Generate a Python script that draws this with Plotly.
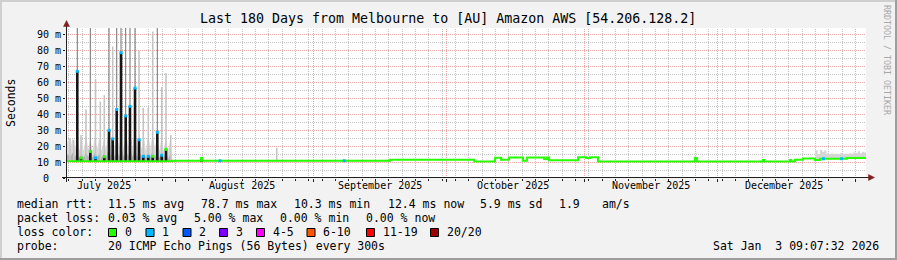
import math
from datetime import datetime, timedelta
import plotly.graph_objects as go

FONT = "DejaVu Sans Mono"
FIG_W, FIG_H = 897, 260
PLOT_L, PLOT_R, PLOT_T, PLOT_B = 66, 866, 28, 178

# ---------------- data ----------------
x_range = ["2025-07-07 09:07:32", "2026-01-03 09:07:32"]
y_max = 94.2

title = "Last 180 Days from Melbourne to [AU] Amazon AWS [54.206.128.2]"
y_ticks = [0, 10, 20, 30, 40, 50, 60, 70, 80, 90]
y_tick_labels = ["0  ", "10 m", "20 m", "30 m", "40 m", "50 m", "60 m", "70 m", "80 m", "90 m"]
month_pos = ["2025-07-16", "2025-08-16", "2025-09-16", "2025-10-16", "2025-11-16", "2025-12-16"]
month_labels = ["July 2025", "August 2025", "September 2025", "October 2025", "November 2025", "December 2025"]

smoke_floor_ms = 10.0

median_time = ["2025-07-07 09:07", "2025-07-31 06:00", "2025-09-18 07:00", "2025-10-07 05:00",
               "2025-10-11 22:00", "2025-10-13 06:00", "2025-10-15 01:00", "2025-10-18 05:00",
               "2025-10-19 03:00", "2025-10-22 23:00", "2025-10-23 15:00", "2025-10-24 02:00",
               "2025-10-30 14:00", "2025-11-01 09:00", "2025-11-02 07:00", "2025-11-04 02:00",
               "2025-11-25 22:00", "2025-11-26 09:00", "2025-12-11 05:00", "2025-12-11 12:00",
               "2025-12-17 07:00", "2025-12-17 14:00", "2025-12-18 10:00", "2025-12-20 05:00",
               "2025-12-22 22:00", "2025-12-24 01:00", "2025-12-30 03:00", "2026-01-03 09:07"]
median_ms = [10.5, 10.8, 11.5, 10.4, 12.7, 11.5, 12.9, 10.9, 12.9, 12.0, 12.9, 11.1, 13.1, 12.6,
             13.0, 10.3, 12.5, 10.3, 11.3, 10.3, 11.3, 10.3, 11.5, 12.2, 11.3, 12.1, 12.6, 12.6]

haze_time = ["2025-07-07 09:07", "2025-07-07 21:00", "2025-07-08 09:00", "2025-07-08 21:00",
             "2025-07-09 09:00", "2025-07-09 21:00", "2025-07-10 09:00", "2025-07-10 21:00",
             "2025-07-11 09:00", "2025-07-11 21:00", "2025-07-12 09:00", "2025-07-12 21:00",
             "2025-07-13 09:00", "2025-07-13 21:00", "2025-07-14 09:00", "2025-07-14 21:00",
             "2025-07-15 09:00", "2025-07-15 21:00", "2025-07-16 09:00", "2025-07-16 21:00",
             "2025-07-17 09:00", "2025-07-17 21:00", "2025-07-18 09:00", "2025-07-18 21:00",
             "2025-07-19 09:00", "2025-07-19 21:00", "2025-07-20 09:00", "2025-07-20 21:00",
             "2025-07-21 09:00", "2025-07-21 21:00", "2025-07-22 09:00", "2025-07-22 21:00",
             "2025-07-23 09:00", "2025-07-23 21:00", "2025-07-24 09:00", "2025-07-24 21:00",
             "2025-07-25 09:00", "2025-07-25 21:00", "2025-07-26 09:00", "2025-07-26 21:00",
             "2025-07-27 09:00", "2025-07-27 21:00", "2025-07-28 09:00", "2025-07-28 21:00",
             "2025-07-29 09:00", "2025-07-29 21:00", "2025-07-30 09:00", "2025-07-30 21:00",
             "2025-07-31 06:00"]
haze_hi_ms = [20, 24, 19, 25, 18, 26, 17, 25, 17, 27, 18, 24, 17, 26, 18, 25, 17, 24, 18, 28,
              19, 30, 18, 29, 19, 31, 18, 30, 19, 29, 18, 31, 19, 28, 18, 26, 17, 27, 18, 28,
              18, 27, 17, 25, 17, 26, 16, 25, 10.5]
haze_mid_ms = [13, 15, 13, 16, 13, 17, 12.5, 15, 12.5, 16, 13, 17, 12.5, 16, 13, 15, 12.5, 15,
               13, 17, 13.5, 18, 13, 18, 13, 19, 13, 18, 13.5, 18, 13, 19, 13, 17, 13, 16, 12.5,
               16, 13, 17, 13, 17, 12.5, 16, 12.5, 17, 12, 15, 10.5]

light_smoke_time = ["2025-07-08 06:45", "2025-07-09 02:40", "2025-07-10 18:15", "2025-07-11 21:00",
                    "2025-07-14 00:30", "2025-07-15 02:25", "2025-07-16 00:00", "2025-07-17 21:20",
                    "2025-07-23 19:25", "2025-07-24 18:30", "2025-07-25 21:35", "2025-07-26 21:20",
                    "2025-07-28 21:50", "2025-07-29 21:10", "2025-07-30 22:35", "2025-08-23 19:00"]
light_smoke_ms = [25, 24, 27, 43, 62, 48, 52, 82.6, 80, 44, 44, 92, 57, 66, 27, 19]

dark_smoke_time = ["2025-07-09 22:00", "2025-07-12 20:25", "2025-07-17 01:25", "2025-07-18 19:00",
                   "2025-07-19 18:10", "2025-07-20 19:30", "2025-07-21 18:40", "2025-07-22 21:50",
                   "2025-07-27 22:05", "2025-11-25 22:00"]
dark_smoke_ms = [96, 96, 96, 96, 96, 96, 96, 96, 96, 13.5]

core_time = ["2025-07-09 22:00", "2025-07-10 18:15", "2025-07-12 20:25", "2025-07-14 00:30",
             "2025-07-16 00:00", "2025-07-17 01:25", "2025-07-17 21:20", "2025-07-18 19:00",
             "2025-07-19 18:10", "2025-07-20 19:30", "2025-07-21 18:40", "2025-07-22 21:50",
             "2025-07-23 19:25", "2025-07-24 18:30", "2025-07-25 21:35", "2025-07-26 21:20",
             "2025-07-27 22:05", "2025-07-28 21:50", "2025-07-29 21:10", "2025-08-06 21:00"]
core_ms = [67, 12.6, 16.7, 12.7, 13.4, 30, 24.5, 43, 78.7, 39, 45, 56.5, 24, 13.6, 13.6, 13.6,
           28.7, 14.3, 18, 12.3]
core_loss = [1, 0, 0, 1, 0, 1, 1, 1, 1, 1, 1, 1, 1, 1, 1, 0, 1, 1, 0, 0]

loss_dot_time = ["2025-08-11 01:00", "2025-09-08 00:00", "2025-12-24 20:00", "2025-12-28 22:00"]
loss_dot_ms = [10.8, 10.8, 12.1, 12.1]

dec_smoke_time = ["2025-12-23 00:00", "2025-12-23 12:00", "2025-12-24 00:00", "2025-12-24 12:00",
                  "2025-12-25 00:00", "2025-12-25 12:00", "2025-12-26 00:00", "2025-12-26 12:00",
                  "2025-12-27 00:00", "2025-12-27 12:00", "2025-12-28 00:00", "2025-12-28 12:00",
                  "2025-12-29 00:00", "2025-12-29 12:00", "2025-12-30 00:00", "2025-12-30 12:00",
                  "2025-12-31 00:00", "2025-12-31 12:00", "2026-01-01 00:00", "2026-01-01 12:00",
                  "2026-01-02 00:00", "2026-01-02 12:00", "2026-01-03 00:00", "2026-01-03 09:07"]
dec_smoke_low = [11.6, 11.8, 11.8, 11.8, 11.8, 11.8, 11.8, 11.8, 11.8, 11.8, 11.8, 11.8,
                 11.8, 11.8, 12.2, 12.2, 12.2, 12.2, 12.2, 12.2, 12.2, 12.2, 12.2, 12.2]
dec_smoke_high = [17.5, 15.0, 17.8, 16.5, 17.2, 15.3, 15.0, 15.4, 15.0, 15.2, 15.0, 15.5,
                  15.1, 15.3, 15.0, 15.6, 15.2, 16.0, 15.5, 16.8, 15.6, 16.5, 16.0, 15.5]

rtt_avg, rtt_max, rtt_min, rtt_now, rtt_sd, rtt_ams = 11.5, 78.7, 10.3, 12.4, 5.9, 1.9
loss_avg, loss_max, loss_min, loss_now = 0.03, 5.00, 0.00, 0.00
loss_labels = ["0", "1", "2", "3", "4-5", "6-10", "11-19", "20/20"]
loss_colors = ["#26ff00", "#00b8ff", "#0059ff", "#7e00ff", "#ff00ff", "#ff5500", "#ff0000", "#a10000"]
probe_text = "20 ICMP Echo Pings (56 Bytes) every 300s"
stamp_text = "Sat Jan  3 09:07:32 2026"

# ---------------- helpers ----------------
T0 = datetime.strptime(x_range[0], "%Y-%m-%d %H:%M:%S")
T1 = datetime.strptime(x_range[1], "%Y-%m-%d %H:%M:%S")
SPAN = (T1 - T0).total_seconds()


def px(x):
    return (x - PLOT_L) / (PLOT_R - PLOT_L)


def py(y):
    return (PLOT_B - y) / (PLOT_B - PLOT_T)


def time_px(dt):
    return PLOT_L + (dt - T0).total_seconds() / SPAN * (PLOT_R - PLOT_L)


def val_px(v):
    return PLOT_B - v / y_max * (PLOT_B - PLOT_T)


def nb(s):
    return s.replace(" ", "\u00a0")


def segs(times, lows, highs):
    xs, ys = [], []
    for t, lo, hi in zip(times, lows, highs):
        xs += [t, t, None]
        ys += [lo, hi, None]
    return xs, ys


fig = go.Figure()

# July haze
fig.add_trace(go.Scatter(x=haze_time, y=[smoke_floor_ms] * len(haze_time), mode="lines",
                         line=dict(width=0), hoverinfo="skip", showlegend=False))
fig.add_trace(go.Scatter(x=haze_time, y=haze_hi_ms, mode="lines", line=dict(width=0),
                         fill="tonexty", fillcolor="#d9d9d9", hoverinfo="skip", showlegend=False))
fig.add_trace(go.Scatter(x=haze_time, y=[smoke_floor_ms] * len(haze_time), mode="lines",
                         line=dict(width=0), hoverinfo="skip", showlegend=False))
fig.add_trace(go.Scatter(x=haze_time, y=haze_mid_ms, mode="lines", line=dict(width=0),
                         fill="tonexty", fillcolor="#b0b0b0", hoverinfo="skip", showlegend=False))

# December smoke
fig.add_trace(go.Scatter(x=dec_smoke_time, y=dec_smoke_low, mode="lines", line=dict(width=0, shape="hv"),
                         hoverinfo="skip", showlegend=False))
fig.add_trace(go.Scatter(x=dec_smoke_time, y=dec_smoke_high, mode="lines", line=dict(width=0, shape="hv"),
                         fill="tonexty", fillcolor="#d6d6d6", hoverinfo="skip", showlegend=False))

# light smoke spikes
xs, ys = segs(light_smoke_time, [smoke_floor_ms] * len(light_smoke_time), light_smoke_ms)
fig.add_trace(go.Scatter(x=xs, y=ys, mode="lines", line=dict(color="#c4c4c4", width=1.6),
                         hoverinfo="skip", showlegend=False))

# dark smoke spikes
xs, ys = segs(dark_smoke_time, [smoke_floor_ms] * len(dark_smoke_time), dark_smoke_ms)
fig.add_trace(go.Scatter(x=xs, y=ys, mode="lines", line=dict(color="#707070", width=1),
                         hoverinfo="skip", showlegend=False))

# dense core
xs, ys = segs(core_time, [smoke_floor_ms] * len(core_time), core_ms)
fig.add_trace(go.Scatter(x=xs, y=ys, mode="lines", line=dict(color="#161616", width=2.6),
                         hoverinfo="skip", showlegend=False))

# median line
fig.add_trace(go.Scatter(x=median_time, y=median_ms, mode="lines",
                         line=dict(color=loss_colors[0], width=2, shape="hv"),
                         hoverinfo="skip", showlegend=False))

# loss-coloured median points
fig.add_trace(go.Scatter(x=core_time, y=core_ms, mode="markers",
                         marker=dict(symbol="square", size=3, color=[loss_colors[i] for i in core_loss],
                                     line=dict(width=0)),
                         hoverinfo="skip", showlegend=False))
fig.add_trace(go.Scatter(x=loss_dot_time, y=loss_dot_ms, mode="markers",
                         marker=dict(symbol="square", size=3, color=loss_colors[1], line=dict(width=0)),
                         hoverinfo="skip", showlegend=False))

GRID = "#c2c2c2"
MGRID = "#efa8a8"
AXIS = "#1f1f1f"
ARROW = "#801f1f"

fig.update_layout(
    width=FIG_W, height=FIG_H, autosize=False, template="none",
    margin=dict(l=PLOT_L, r=FIG_W - PLOT_R, t=PLOT_T, b=FIG_H - PLOT_B, pad=0),
    paper_bgcolor="#f2f2f2", plot_bgcolor="#ffffff",
    showlegend=False,
    xaxis=dict(type="date", range=x_range, automargin=False, showticklabels=False,
               tickmode="linear", tick0="2025-07-01", dtick="M1", showgrid=False,
               ticks="outside", ticklen=3, tickcolor=AXIS, zeroline=False, showline=False,
               minor=dict(tickmode="linear", tick0="2025-08-01", dtick=3 * 86400000, showgrid=False,
                          ticks="outside", ticklen=2, tickcolor=AXIS)),
    yaxis=dict(range=[0, y_max], automargin=False, tickmode="array", tickvals=y_ticks,
               ticktext=[nb(t) for t in y_tick_labels],
               tickfont=dict(family=FONT, size=10, color="#000"), showgrid=False,
               ticks="outside", ticklen=2, tickcolor=AXIS, zeroline=False, showline=False),
)

shapes = []


# grid (pixel-snapped dotted lines, like rrdtool)
def vline(xpix, color):
    c = math.floor(xpix) + 0.5
    shapes.append(dict(type="line", xref="paper", yref="paper", x0=px(c), x1=px(c), y0=0, y1=1,
                       line=dict(color=color, width=1, dash="1px,1px"), layer="below"))


def hline(ypix, color):
    r = math.floor(ypix) + 0.5
    shapes.append(dict(type="line", xref="paper", yref="paper", x0=0, x1=1, y0=py(r), y1=py(r),
                       line=dict(color=color, width=1, dash="1px,1px"), layer="below"))


month_starts = []
d = datetime(2025, 8, 1)
while d < T1:
    month_starts.append(d)
    d = datetime(d.year + (d.month // 12), d.month % 12 + 1, 1)
d = datetime(2025, 8, 1)
while d - timedelta(days=3) > T0:
    d -= timedelta(days=3)
while d < T1:
    if d not in month_starts:
        vline(time_px(d), GRID)
    d += timedelta(days=3)
for m in month_starts:
    vline(time_px(m), MGRID)
for v in range(5, 95, 10):
    hline(val_px(v), GRID)
for v in range(10, 95, 10):
    hline(val_px(v), MGRID)

# 3D frame
shapes.append(dict(type="rect", xref="paper", yref="paper", x0=px(0), x1=px(FIG_W), y0=py(0), y1=py(2),
                   fillcolor="#cfcfcf", line=dict(width=0), layer="above"))
shapes.append(dict(type="rect", xref="paper", yref="paper", x0=px(0), x1=px(2), y0=py(0), y1=py(FIG_H),
                   fillcolor="#cfcfcf", line=dict(width=0), layer="above"))
shapes.append(dict(type="rect", xref="paper", yref="paper", x0=px(0), x1=px(FIG_W), y0=py(FIG_H - 2),
                   y1=py(FIG_H), fillcolor="#9e9e9e", line=dict(width=0), layer="above"))
shapes.append(dict(type="rect", xref="paper", yref="paper", x0=px(FIG_W - 2), x1=px(FIG_W), y0=py(0),
                   y1=py(FIG_H), fillcolor="#9e9e9e", line=dict(width=0), layer="above"))
# axes
shapes.append(dict(type="line", xref="paper", yref="paper", x0=px(66.5), x1=px(66.5), y0=py(182), y1=py(25),
                   line=dict(color=AXIS, width=1), layer="above"))
shapes.append(dict(type="line", xref="paper", yref="paper", x0=px(62), x1=px(869), y0=py(177.5), y1=py(177.5),
                   line=dict(color=AXIS, width=1), layer="above"))


def tri(points):
    dd = "M " + " L ".join(f"{px(a)} {py(b)}" for a, b in points) + " Z"
    return dict(type="path", xref="paper", yref="paper", path=dd, fillcolor=ARROW,
                line=dict(color=ARROW, width=0.5), layer="above")


shapes.append(tri([(63.5, 26.5), (69.5, 26.5), (66.5, 20.5)]))
shapes.append(tri([(868.5, 174.5), (868.5, 180.5), (874.5, 177.5)]))

annotations = []


def txt(x, y, s, size=11.5, anchor="left", color="#000000", angle=0):
    annotations.append(dict(x=px(x), y=py(y), xref="paper", yref="paper", text=nb(s), showarrow=False,
                            xanchor=anchor, yanchor="middle", textangle=angle, borderpad=0,
                            font=dict(family=FONT, size=size, color=color)))


txt(447.5, 19, title, size=13.3, anchor="center")
txt(10.5, 102.5, "Seconds", size=11.5, anchor="center", angle=-90)
txt(887, 60, "RRDTOOL / TOBI OETIKER", size=8.3, anchor="center", color="#a8a8a8", angle=90)

for pos, lab in zip(month_pos, month_labels):
    annotations.append(dict(x=pos, y=py(186), xref="x", yref="paper", text=nb(lab), showarrow=False,
                            xanchor="center", yanchor="middle", borderpad=0,
                            font=dict(family=FONT, size=10, color="#000")))

# legend lines
txt(16, 204.3, "median rtt:")
txt(107.3, 204.3, f"{rtt_avg:.1f} ms avg")
txt(200, 204.3, f"{rtt_max:.1f} ms max")
txt(293.3, 204.3, f"{rtt_min:.1f} ms min")
txt(386.7, 204.3, f"{rtt_now:.1f} ms now")
txt(479.3, 204.3, f"{rtt_sd:.1f} ms sd")
txt(557.7, 204.3, f"{rtt_ams:.1f}")
txt(600.7, 204.3, "am/s")

txt(16, 218.3, "packet loss:")
txt(107.3, 218.3, f"{loss_avg:.2f} % avg")
txt(193, 218.3, f"{loss_max:.2f} % max")
txt(279.3, 218.3, f"{loss_min:.2f} % min")
txt(365.3, 218.3, f"{loss_now:.2f} % now")

txt(16, 232.3, "loss color:")
box_x = [108.5, 146, 183, 219.5, 256.5, 307, 366.5, 430.5]
for bx, lab, col in zip(box_x, loss_labels, loss_colors):
    shapes.append(dict(type="rect", xref="paper", yref="paper", x0=px(bx), x1=px(bx + 8), y0=py(228.5),
                       y1=py(236.5), fillcolor=col, line=dict(color="#000", width=1), layer="above"))
    txt(bx + 15, 232.3, lab)

txt(16, 246.2, "probe:")
txt(107.3, 246.2, probe_text)
txt(880, 246.2, stamp_text, anchor="right")

fig.update_layout(shapes=shapes, annotations=annotations)

fig.write_html("out.html")
